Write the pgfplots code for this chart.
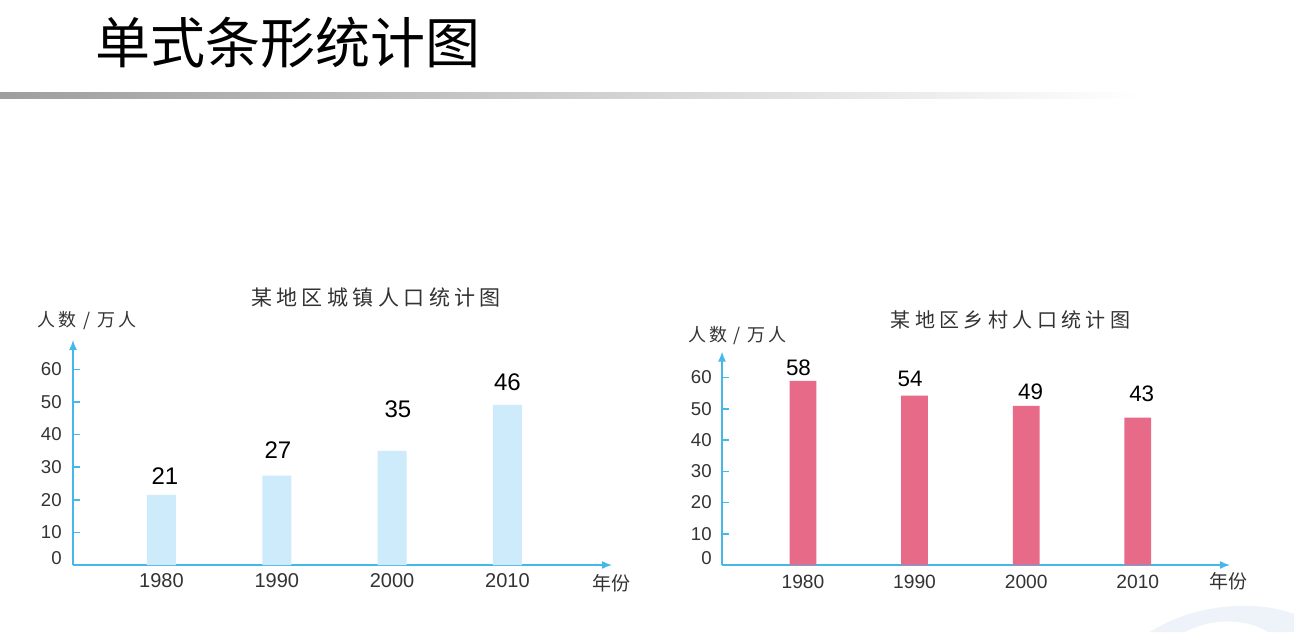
\documentclass[border=0pt]{standalone}
\usepackage{pgfplots}
\pgfplotsset{compat=1.18}
\usetikzlibrary{arrows.meta}
\usepackage{fontspec}
\setmainfont{Liberation Sans}
\newfontfamily\cjk{Noto Sans CJK SC}
\newfontfamily\cjkT[LetterSpace=21]{Noto Sans CJK SC}
\newfontfamily\cjkU[LetterSpace=22]{Noto Sans CJK SC}
\newfontfamily\cjkY[LetterSpace=16]{Noto Sans CJK SC}
\definecolor{axblue}{HTML}{45B8EA}
\definecolor{barblue}{HTML}{CDEBFB}
\definecolor{barpink}{HTML}{E86A89}
\definecolor{labgray}{HTML}{333333}
\definecolor{swoosh}{HTML}{EEF3F9}

\pgfplotstableread{
x y
0 21.5
1 27.4
2 35.0
3 49.1
}\cityBars
\pgfplotstableread{
x y label
0.03 27.4 21
1.01 35.3 27
2.05 47.7 35
3.00 56.1 46
}\cityLabels
\pgfplotstableread{
x y
0 58.9
1 54.2
2 50.9
3 47.2
}\ruralBars
\pgfplotstableread{
x y label
-0.04 63.1 58
0.96 59.6 54
2.04 55.6 49
3.035 54.7 43
}\ruralLabels

\pgfplotsset{mystyle/.style={
  scale only axis, clip=false,
  axis lines=left,
  axis line style={axblue, line width=0.75pt, -{Latex[length=5pt,width=4pt]}},
  ymin=0,
  ytick={0,10,...,60},
  yticklabels={{\raisebox{3.5pt}[\height][\depth]{0}},10,20,30,40,50,60},
  tick align=inside, major tick length=3.5pt,
  y tick style={axblue, line width=0.75pt},
  x tick style={draw=none},
  xtick={0,1,2,3}, xticklabels={1980,1990,2000,2010},
  tick label style={text=labgray, inner sep=0pt},
  yticklabel style={anchor=east, font=\fontsize{9.3pt}{10pt}\selectfont},
  /pgf/number format/assume math mode=true,
}}

\begin{document}
\begin{tikzpicture}[x=0.5pt,y=-0.5pt]
\path[use as bounding box] (0,0) rectangle (1294,632);
\fill[white] (0,0) rectangle (1294,632);
% slide header
\node[font=\cjk\fontsize{27.5pt}{30pt}\selectfont, anchor=center, inner sep=0pt] at (287.5,43) {单式条形统计图};
\shade[left color=black!38, right color=white] (0,92.5) rectangle (1140,98.5);
% decorative swoosh
\fill[swoosh] (1150,632) .. controls (1190,606) and (1250,598) .. (1294,614) -- (1294,632) -- (1268,632) .. controls (1250,620) and (1215,616) .. (1185,632) -- cycle;

% chart texts
\node[font=\cjkT\fontsize{10.5pt}{12pt}\selectfont, text=labgray, inner sep=0pt] at (376,297.5) {某地区城镇人口统计图};
\node[font=\cjkY\fontsize{9pt}{10pt}\selectfont, text=labgray, inner sep=0pt] at (87,321) {人数 / 万人};
\node[font=\cjk\fontsize{9.5pt}{10pt}\selectfont, text=labgray, inner sep=0pt] at (611,583) {年份};

\node[font=\cjkU\fontsize{10pt}{12pt}\selectfont, text=labgray, inner sep=0pt] at (1010.5,320) {某地区乡村人口统计图};
\node[font=\cjkY\fontsize{9pt}{10pt}\selectfont, text=labgray, inner sep=0pt] at (737.5,336) {人数 / 万人};
\node[font=\cjk\fontsize{9.5pt}{10pt}\selectfont, text=labgray, inner sep=0pt] at (1228,581) {年份};

\coordinate (L) at (73,565);
\coordinate (R) at (722,565);

\begin{axis}[mystyle, at={(L)}, anchor=south west,
  width=269.5pt, height=112.5pt,
  xmin=-0.767, xmax=3.907, ymax=69,
  yticklabel shift=5.5pt, xticklabel shift=4pt,
  xticklabel style={anchor=north, font=\fontsize{10pt}{11pt}\selectfont}]
\addplot[ybar, bar width=14.5pt, bar shift=0pt, fill=barblue, draw=none] table[x=x,y=y]{\cityBars};
\addplot[draw=none, mark=none, nodes near coords, point meta=explicit symbolic,
  every node near coord/.append style={anchor=center, inner sep=0pt, text=black, font=\fontsize{12pt}{13pt}\selectfont}]
  table[x=x,y=y,meta=label]{\cityLabels};
\end{axis}

\begin{axis}[mystyle, at={(R)}, anchor=south west,
  width=254pt, height=106.7pt,
  xmin=-0.725, xmax=3.826, ymax=68.3,
  yticklabel shift=5pt, xticklabel shift=5pt,
  xticklabel style={anchor=north, font=\fontsize{9.6pt}{11pt}\selectfont}]
\addplot[ybar, bar width=13.4pt, bar shift=0pt, fill=barpink, draw=none] table[x=x,y=y]{\ruralBars};
\addplot[draw=none, mark=none, nodes near coords, point meta=explicit symbolic,
  every node near coord/.append style={anchor=center, inner sep=0pt, text=black, font=\fontsize{11.2pt}{12pt}\selectfont}]
  table[x=x,y=y,meta=label]{\ruralLabels};
\end{axis}
\end{tikzpicture}
\end{document}
